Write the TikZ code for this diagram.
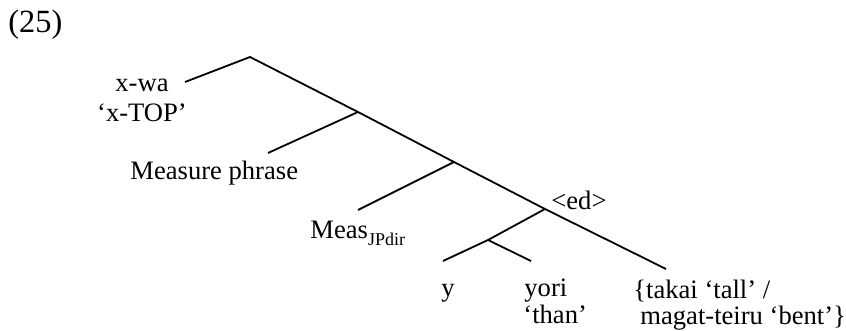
\documentclass[tikz,border=0pt]{standalone}
\usepackage{fontspec}
\setmainfont{Liberation Serif}
\newcommand{\lowsub}[1]{\raisebox{-0.55ex}{\fontsize{9}{9}\selectfont #1}}
\tikzset{
	lbl/.style={inner sep=0pt, font=\fontsize{13.3}{16}\selectfont},
	branch/.style={line width=.9pt}
}

\begin{document}
\begin{tikzpicture}[x=.5pt, y=-.5pt]
		\useasboundingbox (0, 0) rectangle (846, 331);
		% tree points
		\coordinate (root) at (250, 57);
		\coordinate (n1) at (358, 112);
		\coordinate (n2) at (454, 162);
		\coordinate (n3) at (545, 209);
		\coordinate (n4) at (488, 240);
		\coordinate (xwaend) at (185, 82);
		\coordinate (mpend) at (268, 153);
		\coordinate (mjpend) at (358, 210);
		\coordinate (yend) at (443, 261);
		\coordinate (yoriend) at (531, 261);
		\coordinate (predend) at (666, 269);
		% labels
		\node [lbl, anchor=base west, font=\fontsize{16.2}{19}\selectfont] (num) at (8, 33) {(25)};
		\node [lbl, anchor=base] (xwa) at (142, 92) {x-wa};
		\node [lbl, anchor=base] (xtop) at (142, 122) {`x-TOP'};
		\node [lbl, anchor=base west] (mp) at (130, 180) {Measure phrase};
		\node [lbl, anchor=base west] (mjp) at (310, 239) {Meas\lowsub{JPdir}};
		\node [lbl, anchor=base west] (ed) at (551, 210) {\textless ed\textgreater};
		\node [lbl, anchor=base west] (y) at (441, 297) {y};
		\node [lbl, anchor=base west] (yori) at (524, 297) {yori};
		\node [lbl, anchor=base west] (than) at (523, 323) {`than'};
		\node [lbl, anchor=base west] (takai) at (633, 299) {\{takai `tall' /};
		\node [lbl, anchor=base west] (magat) at (640, 324) {magat-teiru `bent'\}};
		% branches
		\draw [branch] (xwaend) -- (root) -- (n1) -- (n2) -- (n3) -- (predend);
		\draw [branch] (n1) -- (mpend);
		\draw [branch] (n2) -- (mjpend);
		\draw [branch] (n3) -- (n4) -- (yend);
		\draw [branch] (n4) -- (yoriend);
	\end{tikzpicture}
\end{document}
